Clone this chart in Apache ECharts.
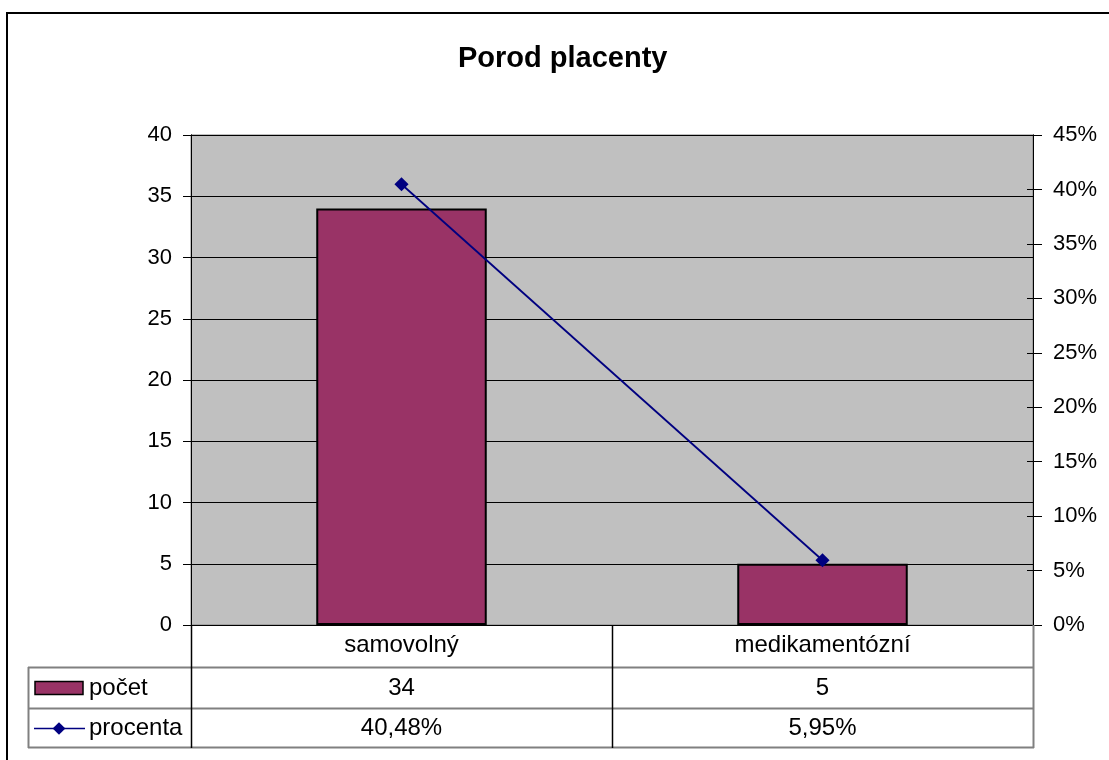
<!DOCTYPE html>
<html>
<head>
<meta charset="utf-8">
<script src="https://cdn.jsdelivr.net/npm/echarts@6/dist/echarts.min.js"></script>
<style>
  html, body { margin: 0; padding: 0; background: #fff; }
  #chart { width: 1109px; height: 760px; }
</style>
</head>
<body>
<div id="chart"></div>
<script>
// Porod placenty – count of births by placenta delivery type, with share in percent
const titleText = 'Porod placenty';
const categories = ['samovolný', 'medikamentózní'];
const countName = 'počet';
const countValues = [34, 5];
const percentName = 'procenta';
const percentValues = [40.48, 5.95];
const percentLabels = ['40,48%', '5,95%'];

const FONT = '"Liberation Sans", Arial, sans-serif';
const BAR = '#993366';
const LINE = '#000080';
const TICK_FS = 22;
const TABLE_FS = 24;

// plot area geometry
const G = { left: 191, top: 135, right: 1033, bottom: 625 };
const rowBottoms = [667, 708, 747];
const tableLeft = 28;

const chart = echarts.init(document.getElementById('chart'), null, { renderer: 'canvas' });

const leftAxisBase = {
  type: 'value', min: 0, max: 40, interval: 5, position: 'left',
  axisLine: { show: true, lineStyle: { color: '#000', width: 1 } }
};
const rightAxisBase = {
  type: 'value', min: 0, max: 45, interval: 5, position: 'right',
  axisLine: { show: true, lineStyle: { color: '#000', width: 1 } }
};

chart.setOption({
  animation: false,
  textStyle: { fontFamily: FONT },
  title: {
    text: titleText, left: 453, top: 39,
    textStyle: { fontFamily: FONT, fontSize: 29, fontWeight: 'bold', color: '#000' }
  },
  grid: {
    left: G.left, top: G.top, width: G.right - G.left, height: G.bottom - G.top,
    show: true, backgroundColor: '#c0c0c0', borderColor: '#808080', borderWidth: 1
  },
  xAxis: {
    type: 'category', data: categories,
    axisLine: { show: true, lineStyle: { color: '#000', width: 1 } },
    axisTick: { show: false },
    axisLabel: { fontFamily: FONT, fontSize: TABLE_FS, color: '#000', margin: 8 },
    splitLine: { show: false }
  },
  yAxis: [
    Object.assign({}, leftAxisBase, {
      axisTick: { show: true, length: 8, lineStyle: { color: '#000' } },
      axisLabel: { fontFamily: FONT, fontSize: TICK_FS, color: '#000', margin: 19 },
      splitLine: { show: true, lineStyle: { color: '#000', width: 1 } }
    }),
    Object.assign({}, rightAxisBase, {
      axisTick: { show: true, length: 9, lineStyle: { color: '#000' } },
      axisLabel: { fontFamily: FONT, fontSize: TICK_FS, color: '#000', margin: 20, formatter: '{value}%' },
      splitLine: { show: false }
    }),
    Object.assign({}, leftAxisBase, {
      axisTick: { show: true, inside: true, length: 7, lineStyle: { color: '#000' } },
      axisLabel: { show: false }, splitLine: { show: false }
    }),
    Object.assign({}, rightAxisBase, {
      axisTick: { show: true, inside: true, length: 6, lineStyle: { color: '#000' } },
      axisLabel: { show: false }, splitLine: { show: false }
    })
  ],
  series: [
    {
      name: countName, type: 'bar', data: countValues, yAxisIndex: 0,
      barWidth: '40.5%',
      itemStyle: { color: BAR, borderColor: '#000', borderWidth: 2 }
    },
    {
      name: percentName, type: 'line', data: percentValues, yAxisIndex: 1,
      symbol: 'rect', symbolSize: 10, symbolRotate: 45,
      lineStyle: { color: LINE, width: 1.8 },
      itemStyle: { color: LINE }
    }
  ]
});

// data table under the plot, built from the same arrays
function px(v) { return Array.isArray(v) ? v[0] : v; }
const centers = categories.map((c) => px(chart.convertToPixel({ xAxisIndex: 0 }, c)));
const mid = Math.round((centers[0] + centers[1]) / 2);
const gray = '#808080';
const els = [];

function line(x1, y1, x2, y2, color, w) {
  els.push({ type: 'line', silent: true, z: 10,
    shape: { x1, y1, x2, y2 }, style: { stroke: color, lineWidth: w || 1 } });
}
function text(str, x, y, align) {
  els.push({ type: 'text', silent: true, z: 11, x, y,
    style: { text: str, fill: '#000', font: TABLE_FS + 'px ' + FONT, align: align || 'center', verticalAlign: 'middle' } });
}

// horizontal row lines
line(tableLeft, rowBottoms[0] + 0.5, G.right + 1, rowBottoms[0] + 0.5, gray, 2);
line(tableLeft, rowBottoms[1] + 0.5, G.right + 1, rowBottoms[1] + 0.5, gray, 2);
line(tableLeft, rowBottoms[2] + 0.5, G.right + 1, rowBottoms[2] + 0.5, gray, 2);
// vertical lines
line(tableLeft + 0.5, rowBottoms[0], tableLeft + 0.5, rowBottoms[2] + 1, gray, 2);
line(G.left + 0.5, G.bottom, G.left + 0.5, rowBottoms[2] + 1, '#000', 1.5);
line(mid + 0.5, G.bottom, mid + 0.5, rowBottoms[2] + 1, '#000', 1.5);
line(G.right + 0.5, G.bottom, G.right + 0.5, rowBottoms[2] + 1, gray, 2);

// row legend keys
const r1 = (rowBottoms[0] + rowBottoms[1]) / 2;
const r2 = (rowBottoms[1] + rowBottoms[2]) / 2;
els.push({ type: 'rect', silent: true, z: 11,
  shape: { x: 35, y: r1 - 6, width: 48, height: 13 },
  style: { fill: BAR, stroke: '#000', lineWidth: 1.5 } });
text(countName, 89, r1 + 1, 'left');
line(34, r2 + 1, 85, r2 + 1, LINE, 1.5);
els.push({ type: 'rect', silent: true, z: 12, x: 59, y: r2 + 1, rotation: Math.PI / 4,
  shape: { x: -4.5, y: -4.5, width: 9, height: 9 }, style: { fill: LINE } });
text(percentName, 89, r2 + 1, 'left');

// cell values
categories.forEach((c, i) => {
  text(String(countValues[i]), centers[i], r1 + 1);
  text(percentLabels[i], centers[i], r2 + 1);
});

// outer chart frame
els.push({ type: 'rect', silent: true, z: 20,
  shape: { x: 7, y: 13, width: 1200, height: 800 },
  style: { fill: null, stroke: '#000', lineWidth: 2 } });

chart.setOption({ graphic: { elements: els } });
</script>
</body>
</html>
